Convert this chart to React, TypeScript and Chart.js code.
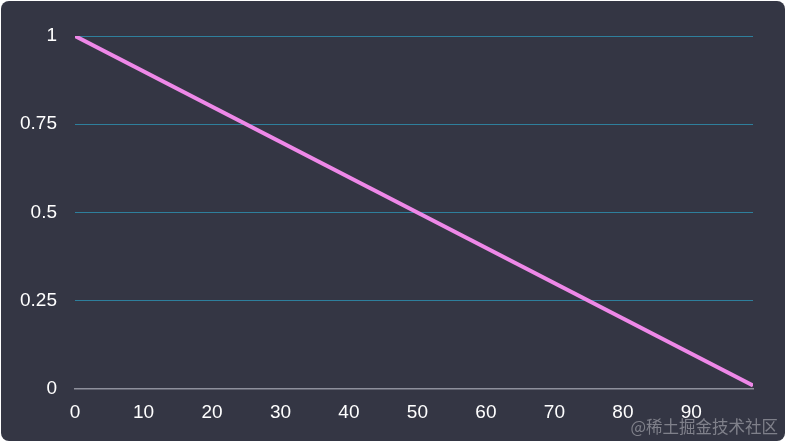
import React, { useEffect, useRef } from "react";
import { Chart, registerables } from "chart.js";

Chart.register(...registerables);

const xValues = [0, 99];
const yValues = [1, 0.01];
const xTicks = [0, 10, 20, 30, 40, 50, 60, 70, 80, 90];
const yTicks = [0, 0.25, 0.5, 0.75, 1];
const watermark = "@稀土掘金技术社区";

export default function App() {
  const ref = useRef<HTMLCanvasElement | null>(null);

  useEffect(() => {
    document.body.style.margin = "0";
    document.body.style.background = "#ffffff";
    const ctx = ref.current!;
    const chart = new Chart(ctx, {
      type: "line",
      data: {
        datasets: [
          {
            data: xValues.map((x, i) => ({ x, y: yValues[i] })),
            borderColor: "#ee88e8",
            borderWidth: 4,
            pointRadius: 0,
            tension: 0,
            fill: false,
          },
        ],
      },
      options: {
        animation: false,
        responsive: false,
        maintainAspectRatio: false,
        layout: { padding: { left: 0, right: 32, top: 35, bottom: 0 } },
        plugins: {
          legend: { display: false },
          tooltip: { enabled: false },
        },
        scales: {
          x: {
            type: "linear",
            min: 0,
            max: 99,
            afterBuildTicks: (scale: any) => {
              scale.ticks = xTicks.map((v) => ({ value: v }));
            },
            afterFit: (scale: any) => {
              scale.height = 52;
            },
            grid: {
              display: true,
              drawOnChartArea: false,
              drawTicks: true,
              tickLength: 8,
              tickColor: "rgba(0,0,0,0)",
            },
            border: { display: true, color: "#8e909c", width: 1.5 },
            ticks: {
              color: "#ffffff",
              padding: 4,
              maxRotation: 0,
              autoSkip: false,
              font: { family: "'Liberation Sans', Arial, sans-serif", size: 19 },
            },
          },
          y: {
            type: "linear",
            min: 0,
            max: 1,
            afterBuildTicks: (scale: any) => {
              scale.ticks = yTicks.map((v) => ({ value: v }));
            },
            afterFit: (scale: any) => {
              scale.width = 74;
            },
            grid: {
              color: (c: any) =>
                c.tick && c.tick.value === 0 ? "rgba(0,0,0,0)" : "#2e7f9c",
              lineWidth: 1,
              drawTicks: false,
            },
            border: { display: false },
            ticks: {
              color: "#ffffff",
              padding: 18,
              font: { family: "'Liberation Sans', Arial, sans-serif", size: 19 },
              callback: (v: any) => String(v),
            },
          },
        },
      },
    });
    return () => chart.destroy();
  }, []);

  return (
    <div
      style={{
        position: "absolute",
        left: 1,
        top: 1,
        width: 784,
        height: 440,
        borderRadius: 8,
        overflow: "hidden",
        background: "#343644",
      }}
    >
      <canvas ref={ref} width={784} height={440} style={{ display: "block" }} />
      <div
        style={{
          position: "absolute",
          right: 7,
          bottom: 3,
          color: "rgba(220,220,225,0.45)",
          fontFamily: "'Noto Sans CJK SC', sans-serif",
          fontSize: 16.5,
          whiteSpace: "nowrap",
        }}
      >
        {watermark}
      </div>
    </div>
  );
}
